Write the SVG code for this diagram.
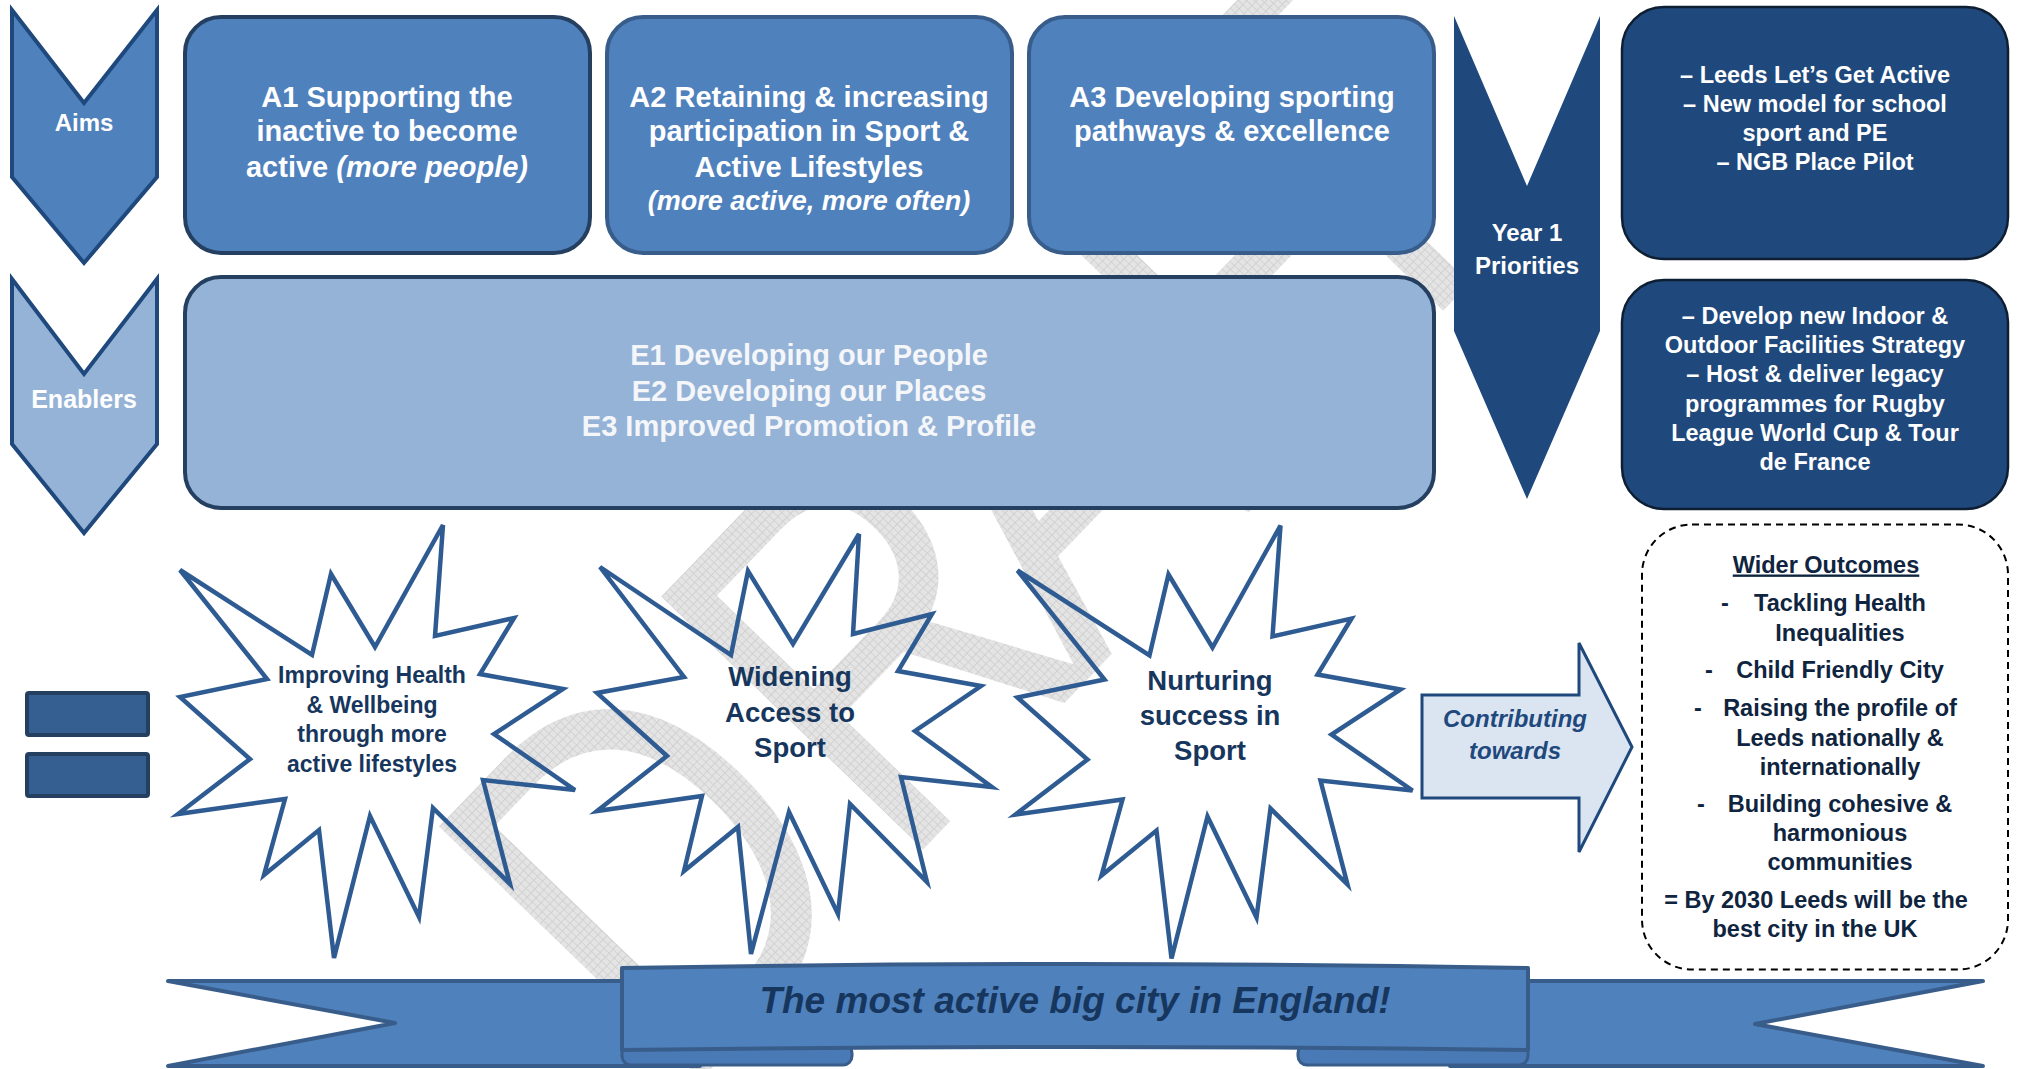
<svg xmlns="http://www.w3.org/2000/svg" width="2018" height="1069" viewBox="0 0 2018 1069">
<defs>
<pattern id="hatch" width="7" height="7" patternUnits="userSpaceOnUse"><rect width="7" height="7" fill="#e4e4e4"/><path d="M0 0.5H7M0.5 0V7" stroke="#cfcfcf" stroke-width="1"/></pattern>
<polygon id="starA" points="180,570 312,655 331,574 375,647 443,525 435,636 514,618 480,674 563,689 494,734 575,790 483,780 510,884 433,808 419,917 370,816 334,958 319,830 264,875 285,799 178,814 250,759 180,697 267,679"/>
<style>
.t{font-family:"Liberation Sans",Arial,sans-serif;font-weight:bold;text-anchor:middle}
.w{fill:#ffffff}
.aim{fill:#4f81bd;stroke-width:4}
.star{fill:none;stroke:#2f5b93;stroke-width:4.5;stroke-linejoin:miter}
.st{fill:#17365d;font-size:23px}
.st2{fill:#17365d;font-size:27.5px}
.pri{fill:#1f497d;stroke:#0f1f33;stroke-width:2.5}
.pt{font-size:23.5px;fill:#ffffff}
.wo{font-size:23.5px;fill:#0f243e}
.ban{fill:#4f81bd;stroke:#385d8a;stroke-width:4;stroke-linejoin:round}
</style>
</defs>
<rect width="2018" height="1069" fill="#ffffff"/>
<g id="watermark">
<text x="0 405 740 1085 1259" y="0" transform="translate(677,1104) rotate(-46) scale(0.79,1)" font-family="Liberation Sans, Arial, sans-serif" font-size="529" fill="url(#hatch)">DRAFT</text>
</g>

<g id="aims-chevron">
<polygon points="12,10 84,103 157,10 157,177 84,263 12,177" fill="#4f81bd" stroke="#1f497d" stroke-width="4"/>
<text class="t w" x="84" y="131" font-size="24">Aims</text>
</g>
<g id="enablers-chevron">
<polygon points="12,279 84,374 157,279 157,444 84,533 12,444" fill="#95b3d7" stroke="#1f497d" stroke-width="4"/>
<text class="t w" x="84" y="408" font-size="25">Enablers</text>
</g>

<g id="a1">
<rect x="185" y="17" width="405" height="236" rx="36" class="aim" stroke="#243f60"/>
<text class="t w" font-size="29"><tspan x="387" y="107">A1 Supporting the</tspan><tspan x="387" y="141">inactive to become</tspan><tspan x="387" y="177">active <tspan font-style="italic">(more people)</tspan></tspan></text>
</g>
<g id="a2">
<rect x="607" y="17" width="405" height="236" rx="36" class="aim" stroke="#385d8a"/>
<text class="t w" font-size="29"><tspan x="809" y="107">A2 Retaining &amp; increasing</tspan><tspan x="809" y="141">participation in Sport &amp;</tspan><tspan x="809" y="177">Active Lifestyles</tspan><tspan x="809" y="210" font-style="italic" font-size="27">(more active, more often)</tspan></text>
</g>
<g id="a3">
<rect x="1029" y="17" width="405" height="236" rx="36" class="aim" stroke="#385d8a"/>
<text class="t w" font-size="29"><tspan x="1232" y="107">A3 Developing sporting</tspan><tspan x="1232" y="141">pathways &amp; excellence</tspan></text>
</g>
<g id="enablers">
<rect x="185" y="277" width="1249" height="231" rx="36" fill="#95b3d7" stroke="#243f60" stroke-width="4"/>
<text class="t" font-size="29" fill="#f4f6f9"><tspan x="809" y="365">E1 Developing our People</tspan><tspan x="809" y="401">E2 Developing our Places</tspan><tspan x="809" y="436">E3 Improved Promotion &amp; Profile</tspan></text>
</g>

<g id="year1">
<polygon points="1454,16 1527,186 1600,16 1600,331 1527,499 1454,331" fill="#1f497d"/>
<text class="t w" font-size="24"><tspan x="1527" y="241">Year 1</tspan><tspan x="1527" y="274">Priorities</tspan></text>
</g>
<g id="priorities-1">
<rect x="1622" y="7" width="386" height="252" rx="42" class="pri"/>
<text class="t pt"><tspan x="1815" y="83">– Leeds Let’s Get Active</tspan><tspan x="1815" y="112">– New model for school</tspan><tspan x="1815" y="141">sport and PE</tspan><tspan x="1815" y="170">– NGB Place Pilot</tspan></text>
</g>
<g id="priorities-2">
<rect x="1622" y="280" width="386" height="229" rx="42" class="pri"/>
<text class="t pt"><tspan x="1815" y="324">– Develop new Indoor &amp;</tspan><tspan x="1815" y="353">Outdoor Facilities Strategy</tspan><tspan x="1815" y="382">– Host &amp; deliver legacy</tspan><tspan x="1815" y="411.5">programmes for Rugby</tspan><tspan x="1815" y="441">League World Cup &amp; Tour</tspan><tspan x="1815" y="470">de France</tspan></text>
</g>

<g id="equals">
<rect x="27" y="693" width="121" height="42" rx="2" fill="#365f91" stroke="#243f60" stroke-width="4"/>
<rect x="27" y="754" width="121" height="42" rx="2" fill="#365f91" stroke="#243f60" stroke-width="4"/>
</g>

<g id="star-health">
<use href="#starA" class="star"/>
<text class="t st"><tspan x="372" y="683">Improving Health</tspan><tspan x="372" y="712.5">&amp; Wellbeing</tspan><tspan x="372" y="742">through more</tspan><tspan x="372" y="772">active lifestyles</tspan></text>
</g>
<g id="star-access">
<polygon class="star" points="600,567 731,655 748,571 793,644 859,534 853,634 932,614 898,671 981,686 915,731 992,787 901,777 927,882 850,804 838,914 789,812 751,954 738,827 684,871 702,796 597,811 667,756 597,693 684,677"/>
<text class="t st2"><tspan x="790" y="686">Widening</tspan><tspan x="790" y="722">Access to</tspan><tspan x="790" y="757">Sport</tspan></text>
</g>
<g id="star-success">
<use href="#starA" class="star" transform="translate(837.5,0.5)"/>
<text class="t st2"><tspan x="1210" y="690">Nurturing</tspan><tspan x="1210" y="725">success in</tspan><tspan x="1210" y="760">Sport</tspan></text>
</g>

<g id="connectors">
<polygon points="1422,695 1579,695 1579,643 1632,747 1579,852 1579,798 1422,798" fill="#dbe5f1" stroke="#1f497d" stroke-width="3"/>
<text class="t" font-style="italic" font-size="24" fill="#1f497d"><tspan x="1515" y="727">Contributing</tspan><tspan x="1515" y="759">towards</tspan></text>
</g>

<g id="wider-outcomes">
<rect x="1642" y="524.5" width="366" height="445" rx="50" fill="#ffffff" stroke="#000000" stroke-width="2" stroke-dasharray="7 5"/>
<text class="t wo" x="1826" y="572.5" text-decoration="underline">Wider Outcomes</text>
<text class="t wo"><tspan x="1725" y="611">-</tspan><tspan x="1840" y="611">Tackling Health</tspan><tspan x="1840" y="641">Inequalities</tspan></text>
<text class="t wo"><tspan x="1709" y="677.5">-</tspan><tspan x="1840" y="677.5">Child Friendly City</tspan></text>
<text class="t wo"><tspan x="1698" y="716">-</tspan><tspan x="1840" y="716">Raising the profile of</tspan><tspan x="1840" y="746">Leeds nationally &amp;</tspan><tspan x="1840" y="775">internationally</tspan></text>
<text class="t wo"><tspan x="1701" y="812">-</tspan><tspan x="1840" y="812">Building cohesive &amp;</tspan><tspan x="1840" y="841">harmonious</tspan><tspan x="1840" y="870">communities</tspan></text>
<text class="t wo"><tspan x="1816" y="908">= By 2030 Leeds will be the</tspan><tspan x="1815" y="937">best city in the UK</tspan></text>
</g>

<g id="banner">
<polygon class="ban" points="168,981 700,981 700,1066 168,1066 395,1023"/>
<polygon class="ban" points="1983,981 1450,981 1450,1066 1983,1066 1755,1024"/>
<rect x="622" y="1044" width="230" height="21" rx="9" fill="#4a7ab5" stroke="#385d8a" stroke-width="3"/>
<rect x="1298" y="1044" width="230" height="21" rx="9" fill="#4a7ab5" stroke="#385d8a" stroke-width="3"/>
<path class="ban" d="M622,968 Q1075,960 1528,968 L1528,1050 Q1075,1044 622,1050 Z"/>
<text class="t" x="1075" y="1013" font-size="37" font-style="italic" fill="#17365d">The most active big city in England!</text>
</g>
</svg>
